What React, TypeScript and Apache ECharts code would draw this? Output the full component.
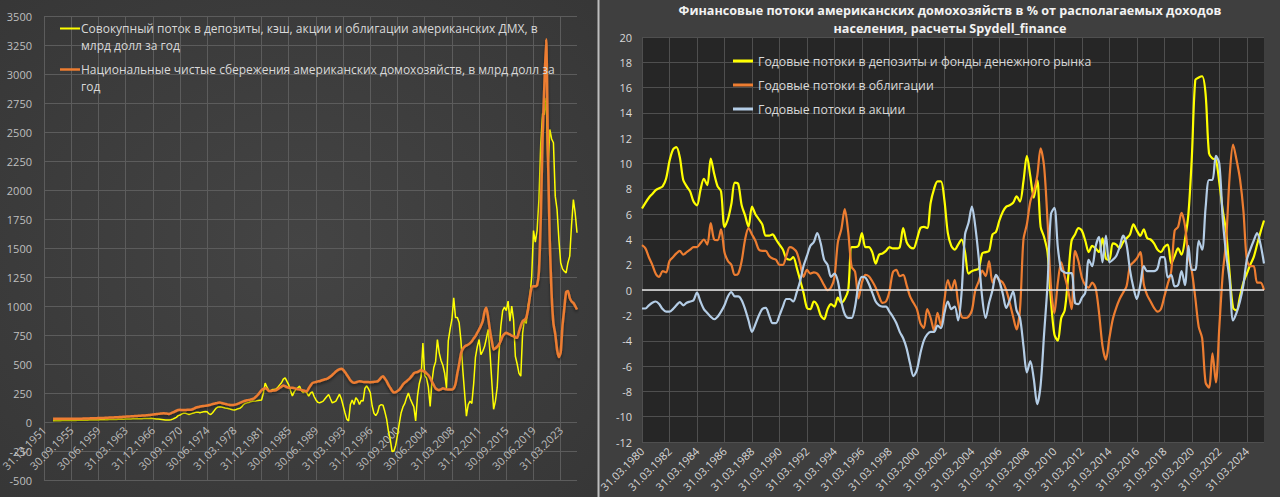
import React, { useEffect, useRef } from 'react';
import * as echarts from 'echarts';

// ---------- categories ----------
function quarterEnds(startYear: number, startQ: number, count: number): string[] {
  const ends = ['31.03', '30.06', '30.09', '31.12'];
  const out: string[] = [];
  let y = startYear;
  let q = startQ;
  for (let k = 0; k < count; k++) {
    out.push(`${ends[q - 1]}.${y}`);
    q++;
    if (q > 4) { q = 1; y++; }
  }
  return out;
}
const leftCategories = quarterEnds(1951, 4, 295);   // 31.12.1951 .. 30.06.2025
const rightCategories = quarterEnds(1980, 1, 182);  // 31.03.1980 .. 30.06.2025

// ---------- left chart: bn USD per year ----------
const leftFlowsName = 'Совокупный поток в депозиты, кэш, акции и облигации американских ДМХ, в\nмлрд долл за год';
const leftSavingsName = 'Национальные чистые сбережения американских домохозяйств, в млрд долл за\nгод';

const leftFlows: (number | null)[] = [
  null, null, null, null, null, 10, 10, 11, 11, 11,
  12, 12, 12, 13, 13, 13, 14, 14, 14, 15,
  15, 15, 16, 16, 16, 17, 17, 17, 18, 18,
  18, 19, 19, 20, 20, 20, 21, 21, 22, 22,
  22, 23, 23, 24, 24, 25, 25, 26, 26, 27,
  27, 28, 28, 29, 29, 30, 30, 31, 31, 32,
  30, 28, 26, 25, 24, 22, 20, 18, 17, 18,
  20, 25, 32, 40, 55, 60, 70, 75, 75, 70,
  65, 70, 75, 80, 85, 85, 80, 85, 88, 90,
  89, 70, 65, 80, 100, 120, 130, 132, 130, 125,
  120, 118, 115, 110, 105, 103, 108, 115, 118, 130,
  150, 160, 165, 167, 175, 178, 180, 182, 185, 188,
  190, 250, 335, 300, 271, 270, 280, 280, 285, 300,
  320, 338, 370, 381, 350, 320, 270, 225, 260, 280,
  295, 309, 270, 252, 270, 250, 223, 250, 260, 220,
  190, 170, 165, 172, 180, 200, 220, 237, 200, 165,
  172, 180, 210, 240, 200, 140, 80, 25, 10, 150,
  190, 151, 210, 190, 151, 185, 180, 290, 312, 285,
  252, 140, 75, 55, 80, 140, 150, 145, 90, 25,
  -80, -150, -255, -250, -200, -110, -10, 80, 130, 160,
  210, 250, 200, 165, 130, 10, 220, 330, 390, 680,
  400, 380, 300, 135, 350, 470, 520, 711, 596, 530,
  490, 420, 294, 700, 800, 884, 1070, 900, 900, 855,
  700, 450, 250, 50, 150, 180, 160, 330, 560, 650,
  711, 580, 610, 650, 720, 798, 600, 350, 110, 180,
  300, 600, 826, 960, 990, 960, 1042, 870, 999, 880,
  567, 500, 420, 395, 769, 884, 850, 1000, 1080, 1250,
  1650, 1550, 1650, 1918, 2400, 2660, 2650, 2795, 2163, 2522,
  2440, 2407, 1947, 1832, 1574, 1373, 1320, 1300, 1286, 1373,
  1430, 1700, 1918, 1800, 1631,
];

const leftSavings: (number | null)[] = [
  null, null, null, null, null, 27, 27, 27, 27, 27,
  27, 27, 28, 28, 28, 28, 28, 28, 28, 28,
  29, 29, 30, 30, 31, 31, 32, 32, 33, 33,
  34, 34, 35, 35, 36, 37, 38, 38, 39, 40,
  41, 42, 43, 44, 45, 46, 47, 48, 49, 50,
  51, 52, 53, 54, 55, 56, 57, 58, 60, 62,
  64, 66, 68, 70, 72, 74, 75, 74, 72, 70,
  75, 82, 90, 97, 103, 105, 104, 103, 104, 105,
  105, 106, 110, 118, 125, 130, 133, 136, 138, 140,
  142, 146, 150, 155, 158, 162, 166, 168, 164, 160,
  156, 152, 149, 147, 146, 148, 152, 158, 165, 172,
  178, 183, 187, 190, 194, 198, 205, 220, 235, 255,
  275, 285, 291, 285, 268, 268, 270, 272, 275, 285,
  295, 305, 315, 310, 300, 295, 295, 295, 292, 288,
  283, 280, 276, 272, 268, 266, 290, 315, 335, 342,
  345, 350, 352, 358, 363, 368, 372, 380, 392, 405,
  420, 435, 447, 455, 458, 450, 430, 408, 385, 360,
  345, 338, 342, 348, 352, 350, 346, 344, 344, 344,
  343, 344, 346, 348, 350, 365, 385, 395, 375, 352,
  320, 295, 270, 255, 258, 268, 280, 300, 324, 340,
  352, 365, 381, 400, 420, 428, 430, 440, 448, 440,
  434, 420, 405, 380, 348, 318, 290, 280, 276, 282,
  290, 286, 282, 280, 280, 280, 290, 330, 420, 500,
  590, 630, 650, 660, 668, 680, 697, 720, 740, 770,
  798, 830, 870, 950, 984, 900, 790, 700, 625, 635,
  650, 670, 700, 740, 760, 769, 762, 755, 745, 740,
  730, 726, 780, 830, 870, 880, 900, 970, 1080, 1160,
  1171, 1171, 1180, 1300, 1750, 2450, 2900, 3300, 2300, 1550,
  1100, 850, 760, 625, 560, 600, 830, 980, 1120, 1130,
  1070, 1040, 1027, 1000, 970,
];

// ---------- right chart: % of disposable income ----------
const rightTitle = 'Финансовые потоки американских домохозяйств в % от располагаемых доходов\nнаселения, расчеты Spydell_finance';
const depositsName = 'Годовые потоки в депозиты и фонды денежного рынка';
const bondsName = 'Годовые потоки в облигации';
const stocksName = 'Годовые потоки в акции';

const deposits: number[] = [
  6.45, 6.9, 7.3, 7.6, 7.9, 8.05, 8.2, 8.8, 10.2, 11.1,
  11.3, 10.5, 8.7, 8.2, 7.8, 7.0, 6.7, 7.9, 8.8, 8.3,
  10.4, 9.2, 8.2, 7.8, 5.0, 5.6, 6.8, 8.5, 8.4, 6.7,
  5.9, 5.0, 6.6, 6.0, 5.6, 5.2, 4.3, 4.3, 4.4, 4.0,
  3.6, 3.2, 2.5, 2.4, 2.6, 1.8, 0.8, -0.2, -1.4, -1.5,
  -0.9, -1.2, -2.0, -2.3, -1.5, -1.1, -1.3, -0.6, -1.0, -0.7,
  0.0, 3.4, 3.4, 3.5, 4.5, 3.4, 3.4, 3.0, 2.1, 2.8,
  2.9, 3.1, 3.4, 3.3, 3.3, 3.4, 4.9, 3.8, 3.4, 3.3,
  4.0, 4.9, 5.0, 4.9, 6.9, 8.0, 8.6, 8.6, 7.1, 4.5,
  3.5, 3.2, 3.6, 4.0, 3.0, 1.3, 1.5, 1.6, 1.7, 2.9,
  3.0, 3.1, 4.4, 4.6, 5.5, 6.2, 6.6, 6.7, 6.9, 7.4,
  7.0, 8.6, 10.6, 9.0, 7.3, 8.7, 5.0, 4.2, 3.0, -0.8,
  -3.5, -4.0, -2.2, -1.6, 1.0, 3.9, 4.4, 4.9, 4.7, 3.9,
  3.0, 3.5, 3.3, 3.0, 4.1, 2.5, 2.4, 3.7, 3.6, 3.3,
  3.8, 4.1, 4.4, 5.2, 4.7, 4.3, 4.8, 4.1, 4.0, 3.7,
  3.2, 3.0, 3.4, 3.6, 2.1, 2.7, 3.3, 2.8, 4.0, 6.0,
  10.5, 16.6, 16.8, 16.9, 15.5, 10.8, 10.4, 10.3, 8.5, 6.3,
  4.6, 1.3, -1.4, -1.6, -0.5, 0.6, 1.3, 2.0, 2.6, 3.6,
  4.6, 5.5,
];

const bonds: number[] = [
  3.55, 3.3, 2.6, 2.0, 1.3, 1.05, 1.5, 1.4, 2.3, 2.6,
  2.9, 3.1, 2.8, 3.0, 3.2, 3.4, 3.4, 3.7, 4.0, 3.6,
  5.3, 4.0, 3.95, 4.8, 3.0, 2.3, 2.0, 1.2, 1.3, 2.3,
  4.0, 4.9, 4.4, 3.9, 3.2, 3.1, 3.1, 2.7, 2.5, 2.4,
  2.0, 2.0, 2.7, 3.4, 3.3, 3.0, 2.1, 1.05, 1.6, 1.3,
  1.4, 1.3, 0.9, 0.4, 0.0, 0.2, 1.0, 3.8, 4.8, 6.4,
  4.6, 1.85, 1.45, -0.65, 0.6, 1.2, 1.1, 0.7, 0.2, -0.5,
  -1.0, -0.9, -0.1, 1.4, 1.6, 1.1, 1.2, 0.4, -0.5, -1.0,
  -1.5, -2.6, -3.0, -1.5, -2.2, -3.2, -1.8, -2.8, -0.8, 0.8,
  0.0, 0.8, -1.0, -2.1, -2.2, -2.1, -1.6, 0.0, 0.7, 1.55,
  1.1, 2.3, 0.6, 1.1, 0.8, 0.6, 0.0, -1.0, -2.1, -3.1,
  -1.5, 4.0, 5.2, 7.0, 7.8, 9.0, 11.2, 9.8, 5.5, 0.3,
  -1.8, 0.6, 2.2, 1.1, 0.0, -1.5, 3.1, 2.3, 1.0, 0.4,
  0.2, 0.6, 0.16, -1.8, -4.4, -5.5, -3.8, -2.3, -1.4, -0.7,
  -0.2, 0.3, 1.9, 2.2, 2.5, 3.0, 0.5, -0.4, -0.9, -1.4,
  -1.7, -1.5, -0.5, 0.5, 1.5, 4.7, 5.0, 6.1, 5.1, 2.7,
  1.5, -0.6, -2.9, -3.8, -7.3, -7.7, -5.0, -7.3, -2.9, 1.3,
  4.0, 9.0, 11.5, 10.3, 8.8, 6.3, 2.4, 1.9, 1.9, 0.6,
  0.6, 0.0,
];

const stocks: number[] = [
  -1.45, -1.45, -1.2, -1.0, -0.9, -1.1, -1.5, -1.7, -1.7, -1.5,
  -1.2, -0.95, -1.2, -1.0, -0.9, -0.8, -0.2, -0.9, -1.5, -1.8,
  -2.1, -2.3, -2.1, -1.7, -1.2, -0.5, -0.15, -0.5, -0.5, -0.8,
  -1.5, -2.4, -3.3, -2.7, -2.0, -1.5, -1.4, -2.0, -2.6, -2.6,
  -2.0, -1.3, -0.7, -0.7, -0.9, -0.2, 0.7, 1.9, 2.7, 3.5,
  3.8, 4.5, 3.7, 2.4, 2.0, 1.05, 1.3, 0.7, -0.9, -1.9,
  -2.2, -2.2, -1.3, 0.4, 1.05, 1.0, 0.5, -0.2, -0.9, -1.2,
  -1.3, -1.3, -1.7, -2.1, -2.6, -3.3, -3.8, -4.6, -5.8, -6.8,
  -6.3, -5.0, -4.0, -3.5, -3.3, -3.3, -2.8, -3.0, -1.8, -0.9,
  -1.5, -1.3, -2.4, -0.2, 4.4, 5.3, 6.6, 5.0, 2.5, -0.6,
  -2.2, -1.0, 0.0, 1.2, 0.7, -0.3, -1.4, -0.8, -0.1, -1.6,
  -2.2, -4.4, -6.5, -5.6, -7.0, -9.0, -7.5, -3.5, 0.4, 6.0,
  6.5, 3.4, 1.6, 1.4, 1.35, 1.35, -1.0, -1.1, -0.6, -0.2,
  2.4, 1.9, 3.45, 4.2, 2.2, 4.3, 2.2, 2.4, 2.7, 3.4,
  4.3, 3.6, 1.6, 0.2, -0.7, 0.4, 1.9, 1.5, 1.5, 1.5,
  1.7, 2.6, 2.6, 1.0, 1.2, 0.3, 0.4, 1.5, 0.4, 3.5,
  1.6, 1.6, 3.9, 3.2, 6.5, 8.7, 8.7, 10.6, 10.0, 5.6,
  2.8, 0.8, -2.4, -1.8, -0.9, 0.4, 2.4, 3.2, 3.9, 4.5,
  3.6, 2.1,
];

const FONT = "'Open Sans', 'Noto Sans', 'DejaVu Sans', sans-serif";
const YELLOW = '#ffff00';
const ORANGE = '#ed7d31';
const BLUE = '#b4cde6';

export default function App() {
  const ref = useRef<HTMLDivElement>(null);

  useEffect(() => {
    if (!ref.current) return;
    const chart = echarts.init(ref.current, undefined, { renderer: 'svg' });

    const option: any = {
      animation: false,
      backgroundColor: '#3e3e3e',
      textStyle: { fontFamily: FONT },
      title: {
        text: rightTitle,
        left: 950,
        top: 1,
        padding: 0,
        textAlign: 'center',
        textStyle: { color: '#f2f2f2', fontSize: 12.6, fontWeight: 'bold', lineHeight: 18, fontFamily: FONT },
      },
      legend: {
        data: [depositsName, bondsName, stocksName],
        orient: 'vertical',
        left: 733,
        top: 53,
        padding: 0,
        icon: 'rect',
        itemWidth: 20,
        itemHeight: 3,
        itemGap: 8,
        textStyle: { color: '#d9d9d9', fontSize: 12.3, fontFamily: FONT, lineHeight: 16 },
      },
      graphic: {
        elements: [
          {
            type: 'rect', z: -100, silent: true,
            shape: { x: 0, y: 0, width: 598, height: 497 },
            style: {
              fill: new echarts.graphic.RadialGradient(0.5, 0.5, 0.75, [
                { offset: 0, color: '#444444' },
                { offset: 1, color: '#363636' },
              ]),
            },
          },
          {
            type: 'rect', z: -100, silent: true,
            shape: { x: 600, y: 0, width: 680, height: 497 },
            style: { fill: '#3f3f3f' },
          },
          {
            type: 'line', z: -99, silent: true,
            shape: { x1: 598.5, y1: 0, x2: 598.5, y2: 497 },
            style: { stroke: '#bdbdbd', lineWidth: 2 },
          },
          {
            type: 'line', z: 100, silent: true,
            shape: { x1: 60, y1: 28.5, x2: 80, y2: 28.5 },
            style: { stroke: YELLOW, lineWidth: 2 },
          },
          {
            type: 'text', z: 100, silent: true, x: 81, y: 20,
            style: { text: leftFlowsName, fill: '#d9d9d9', fontSize: 12, fontFamily: FONT, lineHeight: 17, verticalAlign: 'top' },
          },
          {
            type: 'line', z: 100, silent: true,
            shape: { x1: 60, y1: 69.5, x2: 80, y2: 69.5 },
            style: { stroke: ORANGE, lineWidth: 2.5 },
          },
          {
            type: 'text', z: 100, silent: true, x: 81, y: 61,
            style: { text: leftSavingsName, fill: '#d9d9d9', fontSize: 12, fontFamily: FONT, lineHeight: 17, verticalAlign: 'top' },
          },
        ],
      },
      grid: [
        { left: 44, top: 16, width: 533, height: 464, show: false, outerBoundsMode: 'none', containLabel: false },
        { left: 642, top: 37, width: 622, height: 405, show: true, backgroundColor: '#262626', borderWidth: 0, outerBoundsMode: 'none', containLabel: false },
      ],
      xAxis: [
        {
          gridIndex: 0, type: 'category', data: leftCategories, boundaryGap: false,
          axisLine: { show: false, onZero: false },
          axisTick: { show: false },
          axisLabel: { interval: 14, rotate: 45, fontSize: 11, color: '#bfbfbf', margin: -52, fontFamily: FONT },
          splitLine: { show: true, interval: 14, lineStyle: { color: '#5c5c5c', width: 1 } },
        },
        {
          gridIndex: 1, type: 'category', data: rightCategories, boundaryGap: false,
          axisLine: { show: false, onZero: false },
          axisTick: { show: false },
          axisLabel: { interval: 7, rotate: 45, fontSize: 11, color: '#d9d9d9', margin: 7, fontFamily: FONT },
          splitLine: { show: true, interval: 7, lineStyle: { color: '#4f4f4f', width: 1 } },
        },
      ],
      yAxis: [
        {
          gridIndex: 0, type: 'value', min: -500, max: 3500, interval: 250,
          axisLine: { show: false }, axisTick: { show: false },
          axisLabel: { fontSize: 11, color: '#bfbfbf', margin: 12, fontFamily: FONT, formatter: (v: number) => String(v) },
          splitLine: { show: true, lineStyle: { color: '#5c5c5c', width: 1 } },
        },
        {
          gridIndex: 1, type: 'value', min: -12, max: 20, interval: 2,
          axisLine: { show: false }, axisTick: { show: false },
          axisLabel: { fontSize: 11, color: '#d9d9d9', margin: 10, fontFamily: FONT, formatter: (v: number) => String(v) },
          splitLine: { show: true, lineStyle: { color: '#4f4f4f', width: 1 } },
        },
      ],
      series: [
        {
          name: leftFlowsName, type: 'line', xAxisIndex: 0, yAxisIndex: 0,
          data: leftFlows, symbol: 'none', showSymbol: false,
          lineStyle: { color: YELLOW, width: 1.5 }, itemStyle: { color: YELLOW },
        },
        {
          name: leftSavingsName, type: 'line', xAxisIndex: 0, yAxisIndex: 0,
          data: leftSavings, symbol: 'none', showSymbol: false, smooth: 0.2,
          lineStyle: { color: ORANGE, width: 2.5, shadowColor: 'rgba(0,0,0,0.5)', shadowBlur: 3, shadowOffsetY: 2 },
          itemStyle: { color: ORANGE },
        },
        {
          name: depositsName, type: 'line', xAxisIndex: 1, yAxisIndex: 1,
          data: deposits, symbol: 'none', showSymbol: false, smooth: 0.3,
          lineStyle: { color: YELLOW, width: 2.2 }, itemStyle: { color: YELLOW },
          markLine: {
            silent: true, symbol: 'none', label: { show: false },
            lineStyle: { color: '#e6e6e6', width: 1.5, type: 'solid' },
            data: [{ yAxis: 0 }],
          },
        },
        {
          name: bondsName, type: 'line', xAxisIndex: 1, yAxisIndex: 1,
          data: bonds, symbol: 'none', showSymbol: false, smooth: 0.3,
          lineStyle: { color: ORANGE, width: 2.2 }, itemStyle: { color: ORANGE },
        },
        {
          name: stocksName, type: 'line', xAxisIndex: 1, yAxisIndex: 1,
          data: stocks, symbol: 'none', showSymbol: false, smooth: 0.3,
          lineStyle: { color: BLUE, width: 2.2 }, itemStyle: { color: BLUE },
        },
      ],
    };

    chart.setOption(option);
    return () => chart.dispose();
  }, []);

  return (
    <div
      ref={ref}
      style={{ position: 'fixed', left: 0, top: 0, width: 1280, height: 497 }}
    />
  );
}
